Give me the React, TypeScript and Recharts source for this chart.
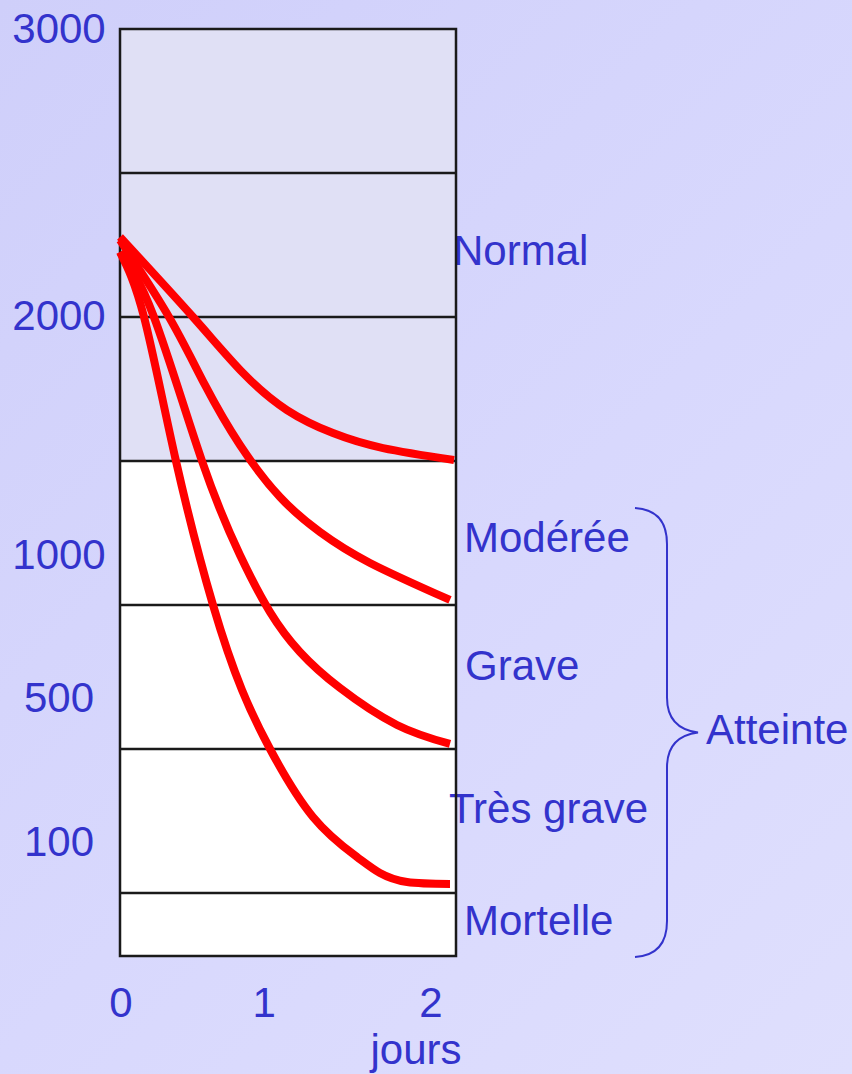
import { LineChart, Line, XAxis, YAxis, ReferenceArea, ReferenceLine } from "recharts";

// x in days, y in "band levels" (each band between two horizontal lines = 1)
const normalCurve = [
  { day: 0, level: 4.556 },
  { day: 0.471, level: 4.0 },
  { day: 0.794, level: 3.611 },
  { day: 1.077, level: 3.354 },
  { day: 1.374, level: 3.194 },
  { day: 1.697, level: 3.09 },
  { day: 2.155, level: 3.007 },
];
const moderateCurve = [
  { day: 0, level: 4.535 },
  { day: 0.316, level: 4.0 },
  { day: 0.548, level: 3.528 },
  { day: 0.774, level: 3.111 },
  { day: 1.032, level: 2.75 },
  { day: 1.29, level: 2.507 },
  { day: 1.613, level: 2.292 },
  { day: 2.129, level: 2.035 },
];
const severeCurve = [
  { day: 0, level: 4.451 },
  { day: 0.219, level: 4.0 },
  { day: 0.529, level: 3.0 },
  { day: 0.774, level: 2.347 },
  { day: 0.968, level: 1.951 },
  { day: 1.161, level: 1.674 },
  { day: 1.419, level: 1.424 },
  { day: 1.787, level: 1.167 },
  { day: 2.129, level: 1.035 },
];
const fatalCurve = [
  { day: 0, level: 4.451 },
  { day: 0.155, level: 4.0 },
  { day: 0.361, level: 3.0 },
  { day: 0.6, level: 2.0 },
  { day: 0.787, level: 1.41 },
  { day: 0.968, level: 1.0 },
  { day: 1.245, level: 0.528 },
  { day: 1.529, level: 0.25 },
  { day: 1.677, level: 0.139 },
  { day: 1.852, level: 0.076 },
  { day: 2.129, level: 0.063 },
];

const xTickValues = [0, 0.923, 2];
const xTickLabels = ["0", "1", "2"];
const yTickValues = [0.354, 1.354, 2.347, 4.01, 6];
const yTickLabels = ["100", "500", "1000", "2000", "3000"];

const bandNames = ["Mortelle", "Très grave", "Grave", "Modérée", "Normal"];
const bandBounds = [
  [-0.4375, 0],
  [0, 1],
  [1, 2],
  [2, 3],
  [3, 6],
];
const bandLines = [0, 1, 2, 3, 4, 5];
const groupName = "Atteinte";
const xName = "jours";

const X_MAX = 2.1677;
const Y_MIN = -0.4375;
const Y_MAX = 6;

const BLUE = "#3333cc";
const FONT = "'Liberation Sans', Arial, sans-serif";

// offsets of each band label from the right edge / band centre
const bandLabelPos = [
  { dx: 8, dy: 10 },
  { dx: -7, dy: 2 },
  { dx: 9, dy: 3 },
  { dx: 8, dy: 19 },
  { dx: -3, dy: 20 },
];

const textStyle = { fontFamily: FONT, fontSize: 42, fill: BLUE };

const YTick = (props: any) => {
  const { x, y, payload } = props;
  const i = yTickValues.indexOf(payload.value);
  return (
    <text x={x - 61} y={y} dy={14} textAnchor="middle" {...textStyle}>
      {yTickLabels[i]}
    </text>
  );
};

const XTick = (props: any) => {
  const { x, y, payload } = props;
  const i = xTickValues.indexOf(payload.value);
  return (
    <text x={x + 1} y={y + 61} textAnchor="middle" {...textStyle}>
      {xTickLabels[i]}
    </text>
  );
};

const bandLabel = (i: number) => (props: any) => {
  const vb = props.viewBox;
  return (
    <text
      x={vb.x + vb.width + bandLabelPos[i].dx}
      y={vb.y + vb.height / 2 + bandLabelPos[i].dy}
      {...textStyle}
    >
      {bandNames[i]}
    </text>
  );
};

const braceLabel = (props: any) => {
  const vb = props.viewBox;
  const x0 = vb.x + vb.width;
  const top = vb.y + 47;
  const bot = vb.y + vb.height + 1;
  const mid = (top + bot) / 2;
  const l = x0 + 179;
  const s = x0 + 211;
  const t = x0 + 242;
  const d = `M ${l} ${top} Q ${s} ${top + 2} ${s} ${top + 36} L ${s} ${mid - 35} Q ${s} ${mid - 4} ${t} ${mid} Q ${s} ${mid + 4} ${s} ${mid + 35} L ${s} ${bot - 36} Q ${s} ${bot - 2} ${l} ${bot}`;
  return (
    <g>
      <path d={d} fill="none" stroke={BLUE} strokeWidth={2} />
      <text x={t + 8} y={mid + 11} {...textStyle}>
        {groupName}
      </text>
    </g>
  );
};

const xLabel = (props: any) => {
  const vb = props.viewBox;
  return (
    <text x={vb.x + 296} y={vb.y + 108} textAnchor="middle" {...textStyle}>
      {xName}
    </text>
  );
};

const curves = [normalCurve, moderateCurve, severeCurve, fatalCurve];

export default function App() {
  return (
    <div
      style={{
        position: "absolute",
        left: 0,
        top: 0,
        width: 852,
        height: 1074,
        background: "linear-gradient(135deg, #cfcffa 0%, #d8d8fd 55%, #dfdffd 100%)",
      }}
    >
      <LineChart
        width={852}
        height={1074}
        margin={{ top: 29, right: 396, bottom: 0, left: 0 }}
      >
        <XAxis
          dataKey="day"
          type="number"
          domain={[0, X_MAX]}
          ticks={xTickValues}
          interval={0}
          height={118}
          axisLine={false}
          tickLine={false}
          tickSize={0}
          tickMargin={0}
          tick={<XTick />}
          label={xLabel}
        />
        <YAxis
          dataKey="level"
          type="number"
          domain={[Y_MIN, Y_MAX]}
          ticks={yTickValues}
          interval={0}
          width={120}
          axisLine={false}
          tickLine={false}
          tickSize={0}
          tickMargin={0}
          tick={<YTick />}
        />
        {bandBounds.map((b, i) => (
          <ReferenceArea
            key={bandNames[i]}
            x1={0}
            x2={X_MAX}
            y1={b[0]}
            y2={b[1]}
            fill={i === 4 ? "#e0e0f5" : "#ffffff"}
            fillOpacity={1}
            stroke="none"
            label={bandLabel(i)}
          />
        ))}
        <ReferenceArea
          x1={0}
          x2={X_MAX}
          y1={bandBounds[0][0]}
          y2={bandBounds[3][1]}
          fill="none"
          fillOpacity={0}
          stroke="none"
          label={braceLabel}
        />
        {bandLines.map((v) => (
          <ReferenceLine key={v} y={v} stroke="#1a1a1a" strokeWidth={2.5} />
        ))}
        <ReferenceArea
          x1={0}
          x2={X_MAX}
          y1={Y_MIN}
          y2={Y_MAX}
          fill="none"
          fillOpacity={0}
          stroke="#1a1a1a"
          strokeWidth={2.5}
        />
        {curves.map((c, i) => (
          <Line
            key={i}
            data={c}
            dataKey="level"
            type="natural"
            stroke="#ff0000"
            strokeWidth={8}
            dot={false}
            activeDot={false}
            isAnimationActive={false}
          />
        ))}
      </LineChart>
    </div>
  );
}
